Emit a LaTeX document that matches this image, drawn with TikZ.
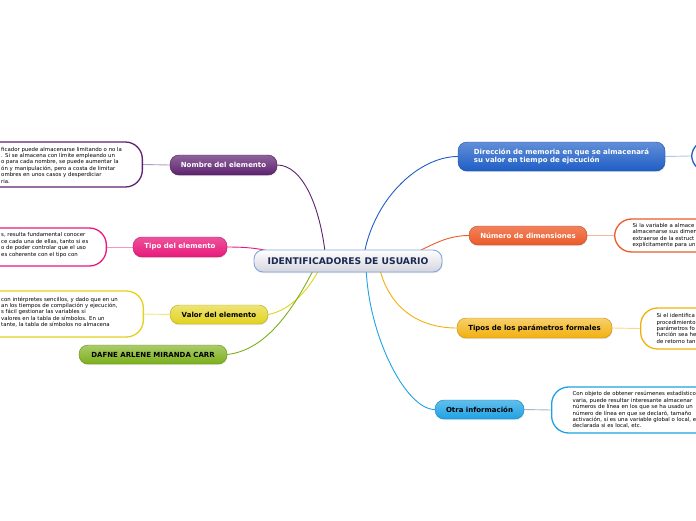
\documentclass[tikz,border=0pt]{standalone}
\usepackage{fontspec}
\setmainfont{DejaVu Sans}
\usetikzlibrary{positioning, shadows, backgrounds}

\definecolor{morado}{HTML}{5E2270}
\definecolor{rosa}{HTML}{E8197A}
\definecolor{amarillo}{HTML}{E2D21C}
\definecolor{verde}{HTML}{7CAF1A}
\definecolor{azul}{HTML}{1E5EC6}
\definecolor{naranja}{HTML}{EC5A28}
\definecolor{ambar}{HTML}{F2B00C}
\definecolor{celeste}{HTML}{1EA2E4}
\definecolor{marino}{HTML}{1B2A52}

\begin{document}
\begin{tikzpicture}[x=1pt, y=-1pt,
    rama/.style={rectangle, rounded corners=9pt, inner sep=0pt, minimum height=20pt,
        font=\fontsize{7}{8.5}\selectfont\bfseries, align=center,
        drop shadow={shadow xshift=0.5pt, shadow yshift=-1.2pt, opacity=0.2}},
    morada/.style={rama, top color=morado!70, bottom color=morado, draw=morado!70!black, text=white},
    rosada/.style={rama, top color=rosa!75, bottom color=rosa, draw=rosa!80!black, text=white},
    amarilla/.style={rama, top color=amarillo!60, bottom color=amarillo, draw=amarillo!80!black, text=black},
    verdosa/.style={rama, top color=verde!65, bottom color=verde, draw=verde!80!black, text=black},
    azulada/.style={rama, top color=azul!70, bottom color=azul, draw=azul!80!black, text=white},
    naranjada/.style={rama, top color=naranja!75, bottom color=naranja, draw=naranja!80!black, text=white},
    ambarina/.style={rama, top color=ambar!60, bottom color=ambar, draw=ambar!80!black, text=black},
    celestina/.style={rama, top color=celeste!70, bottom color=celeste, draw=celeste!80!black, text=black},
    nota/.style={rectangle, rounded corners=17pt, fill=white, line width=1.3pt, inner xsep=18pt,
        inner ysep=0pt, font=\fontsize{5.4}{6.4}\selectfont, align=left},
    notatexto/.style={inner sep=0pt, font=\fontsize{5.4}{6.4}\selectfont, align=left},
    enlace/.style={line width=0.9pt}]

    \useasboundingbox (0,0) rectangle (696,520);
    \begin{scope}
    \clip (0,0) rectangle (696,520);

    % central topic
    \node[rectangle, rounded corners=9pt, minimum width=188pt, minimum height=22pt, inner sep=0pt,
        top color=white, bottom color=blue!12!gray!30, draw=azul!55, line width=0.9pt,
        text=marino, font=\fontsize{9.2}{10}\selectfont\bfseries,
        drop shadow={shadow xshift=0.5pt, shadow yshift=-1.2pt, opacity=0.2}] (centro) at (348,261) {IDENTIFICADORES DE USUARIO};

    % left branches
    \node[morada, minimum width=107pt] (nombre) at (223.5,165) {Nombre del elemento};
    \node[rosada, minimum width=94pt] (tipo) at (180,247) {Tipo del elemento};
    \node[amarilla, minimum width=98pt, minimum height=19pt] (valor) at (219,314.5) {Valor del elemento};
    \node[verdosa, minimum width=148pt, minimum height=19pt] (autora) at (153,354.5) {DAFNE ARLENE MIRANDA CARR};

    % right branches
    \node[azulada, minimum width=207pt, minimum height=29pt, align=left] (direccion) at (561.5,156.5) {Dirección de memoria en que se almacenará\\su valor en tiempo de ejecución};
    \node[naranjada, minimum width=118pt, minimum height=19pt] (numero) at (528,235.5) {Número de dimensiones};
    \node[ambarina, minimum width=155pt] (tipos) at (534.5,328) {Tipos de los parámetros formales};
    \node[celestina, minimum width=89pt, minimum height=19pt] (otra) at (479.5,409.5) {Otra información};

    % notes on the left (cut by the page edge)
    \node[nota, draw=morado, anchor=east, minimum width=220pt, minimum height=45pt] (nombrenota) at (143,164.5) {};
    \node[notatexto, anchor=west] (nombretexto) at (1,165) {ficador puede almacenarse limitando o no la\\
        . Si se almacena con límite empleando un\\
        o para cada nombre, se puede aumentar la\\
        ón y manipulación, pero a costa de limitar\\
        ombres en unos casos y desperdiciar\\
        ria.};
    \node[nota, draw=rosa, anchor=east, minimum width=200pt, minimum height=38pt] (tiponota) at (107,247) {};
    \node[notatexto, anchor=west] (tipotexto) at (1,245) {s, resulta fundamental conocer\\
        ce cada una de ellas, tanto si es\\
        o de poder controlar que el uso\\
        es coherente con el tipo con};
    \node[nota, draw=amarillo, anchor=east, minimum width=220pt, minimum height=46pt] (valornota) at (144,314) {};
    \node[notatexto, anchor=west] (valortexto) at (1,312) {con intérpretes sencillos, y dado que en un\\
        an los tiempos de compilación y ejecución,\\
        s fácil gestionar las variables si\\
        valores en la tabla de símbolos. En un\\
        tante, la tabla de símbolos no almacena};

    % notes on the right (cut by the page edge)
    \node[nota, draw=azul, anchor=west, minimum width=200pt, minimum height=32pt] (direccionnota) at (691,156) {};
    \node[nota, draw=naranja, anchor=west, text width=230pt, minimum height=33pt] (numeronota) at (614,235.5) {Si la variable a almace\\
        almacenarse sus dimen\\
        extraerse de la estruct\\
        explícitamente para un};
    \node[nota, draw=ambar, anchor=west, text width=230pt, minimum height=41pt, inner xsep=16pt] (tiposnota) at (640,328.5) {Si el identifica\\
        procedimiento\\
        parámetros fo\\
        función sea he\\
        de retorno tan};
    \node[nota, draw=celeste, anchor=west, text width=230pt, minimum height=46pt, inner xsep=21pt] (otranota) at (551,410) {Con objeto de obtener resúmenes estadístico\\
        varia, puede resultar interesante almacenar\\
        números de línea en los que se ha usado un\\
        número de línea en que se declaró, tamaño\\
        activación, si es una variable global o local, e\\
        declarada si es local, etc.};
    \end{scope}

    % connectors behind the nodes
    \begin{scope}[on background layer]
        \draw[enlace, morado] (nombre.east) .. controls +(25,0) and +(-5,-55) .. ([xshift=-22pt]centro.center);
        \draw[enlace, rosa] (tipo.east) .. controls +(45,0) and +(-40,-6) .. ([xshift=-35pt]centro.center);
        \draw[enlace, amarillo] (valor.east) .. controls +(22,-4) and +(-12,28) .. ([xshift=-25pt]centro.center);
        \draw[enlace, verde] (autora.east) .. controls +(45,-5) and +(-18,35) .. ([xshift=-30pt]centro.center);
        \draw[enlace, azul] (direccion.west) .. controls +(-40,0) and +(8,-60) .. ([xshift=15pt]centro.center);
        \draw[enlace, naranja] (numero.west) .. controls +(-30,0) and +(30,-8) .. ([xshift=45pt]centro.center);
        \draw[enlace, ambar] (tipos.west) .. controls +(-40,0) and +(8,45) .. ([xshift=30pt]centro.center);
        \draw[enlace, celeste] (otra.west) .. controls +(-30,0) and +(0,70) .. ([xshift=18pt]centro.center);

        \draw[enlace, morado!45] (nombrenota.east) -- (nombre.west);
        \draw[enlace, rosa!45] (tiponota.east) -- (tipo.west);
        \draw[enlace, amarillo!55] (valornota.east) -- (valor.west);
        \draw[enlace, azul!35] (direccion.east) -- (direccionnota.west);
        \draw[enlace, naranja!45] (numero.east) -- (numeronota.west);
        \draw[enlace, ambar!50] (tipos.east) -- (tiposnota.west);
        \draw[enlace, celeste!35!gray!60] (otra.east) -- (otranota.west);
    \end{scope}
\end{tikzpicture}
\end{document}
